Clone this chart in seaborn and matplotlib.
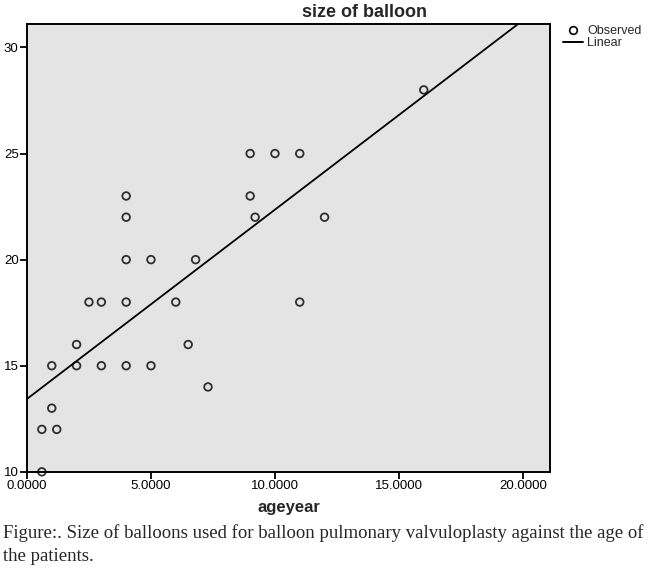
import matplotlib
matplotlib.use("Agg")
import matplotlib.pyplot as plt
from matplotlib.lines import Line2D
import seaborn as sns
import pandas as pd

# values
age_year = [0.6, 0.6, 1.2, 1.0, 1.0, 2.0, 2.0, 3.0, 4.0, 5.0, 6.5, 7.3,
            2.5, 3.0, 4.0, 6.0, 11.0, 4.0, 5.0, 6.8, 4.0, 9.2, 12.0,
            4.0, 9.0, 9.0, 10.0, 11.0, 16.0]
balloon_size = [10, 12, 12, 13, 15, 15, 16, 15, 15, 15, 16, 14,
                18, 18, 18, 18, 18, 20, 20, 20, 22, 22, 22,
                23, 23, 25, 25, 25, 28]

x_ticks = [0, 5, 10, 15, 20]
x_tick_labels = ["0.0000", "5.0000", "10.0000", "15.0000", "20.0000"]
y_ticks = [10, 15, 20, 25, 30]

df = pd.DataFrame({"ageyear": age_year, "size": balloon_size})

sns.set_style("ticks")
plt.rcParams["font.family"] = ["Liberation Sans", "DejaVu Sans"]

fig = plt.figure(figsize=(6.5, 5.74), dpi=100)
ax = fig.add_axes([0.0415, 0.178, 0.805, 0.780])
ax.set_facecolor("#e4e4e4")
ax.set_xlim(0, 21.1)
ax.set_ylim(10, 31.1)

sns.regplot(data=df, x="ageyear", y="size", ax=ax, ci=None, truncate=False,
            scatter_kws=dict(s=30, facecolors="none", edgecolors="black",
                             linewidths=1.3, clip_on=False, zorder=3),
            line_kws=dict(color="black", linewidth=1.3))

ax.set_xlim(0, 21.1)
ax.set_ylim(10, 31.1)
ax.set_xticks(x_ticks)
ax.set_xticklabels(x_tick_labels)
ax.set_yticks(y_ticks)
ax.tick_params(axis="both", direction="out", length=5, width=1.3,
               labelsize=9.5, pad=1, colors="black")
for side in ["left", "right", "top", "bottom"]:
    ax.spines[side].set_visible(True)
    ax.spines[side].set_color("black")
    ax.spines[side].set_linewidth(1.4)

ax.set_xlabel("ageyear", fontsize=12, fontweight="bold", labelpad=6)
ax.set_ylabel("")

fig.text(0.5615, 0.979, "size of balloon", ha="center", va="center",
         fontsize=13, fontweight="bold")

handles = [
    Line2D([], [], marker="o", linestyle="none", markersize=5.5,
           markerfacecolor="none", markeredgecolor="black",
           markeredgewidth=1.2, label="Observed"),
    Line2D([], [], color="black", linewidth=1.4, label="Linear"),
]
fig.legend(handles=handles, loc="upper left", bbox_to_anchor=(0.866, 0.956),
           frameon=False, fontsize=9, handlelength=1.6, handletextpad=0.35,
           labelspacing=0.0, borderpad=0, borderaxespad=0)

fig.text(0.005, 0.071,
         "Figure:. Size of balloons used for balloon pulmonary valvuloplasty against the age of",
         ha="left", va="center", fontsize=13.5, family="Liberation Serif")
fig.text(0.005, 0.030, "the patients.", ha="left", va="center",
         fontsize=13.5, family="Liberation Serif")

fig.savefig("out.png", dpi=100)
